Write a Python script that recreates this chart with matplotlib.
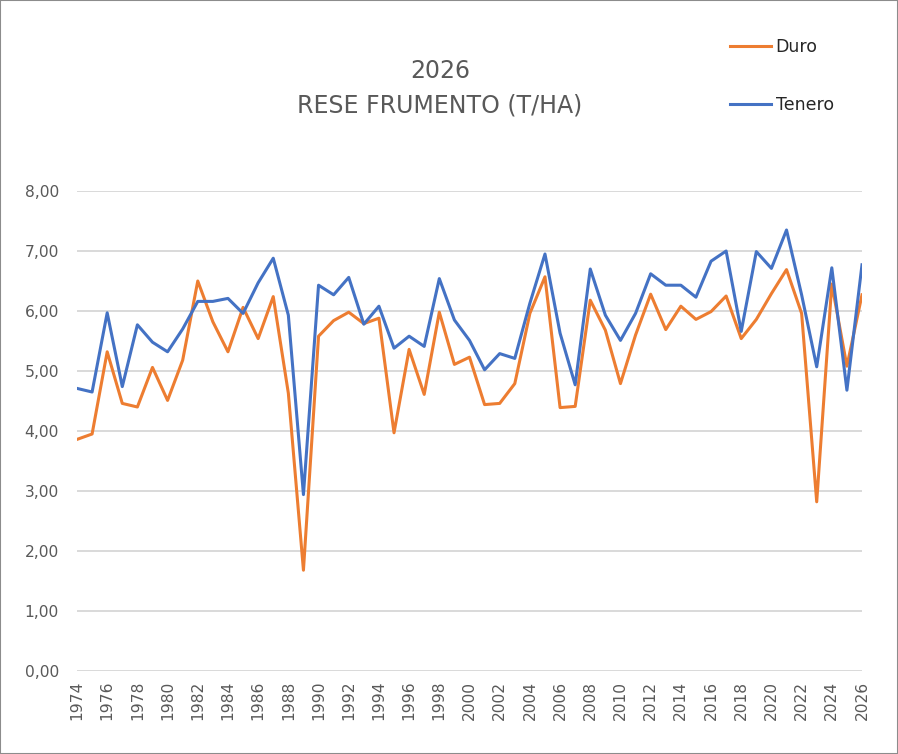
import matplotlib.pyplot as plt
from matplotlib.patches import Rectangle

years = list(range(1974, 2027))

duro = [3.86, 3.95, 5.32, 4.46, 4.40, 5.06, 4.51, 5.18, 6.50, 5.82,
        5.32, 6.06, 5.54, 6.24, 4.63, 1.68, 5.58, 5.84, 5.98, 5.79,
        5.88, 3.97, 5.36, 4.61, 5.98, 5.11, 5.23, 4.44, 4.46, 4.79,
        5.96, 6.57, 4.39, 4.41, 6.18, 5.68, 4.79, 5.60, 6.28, 5.69,
        6.08, 5.86, 5.99, 6.25, 5.54, 5.86, 6.29, 6.69, 5.96, 2.82,
        6.45, 5.08, 6.27]

tenero = [4.71, 4.65, 5.97, 4.74, 5.77, 5.48, 5.32, 5.70, 6.16, 6.16,
          6.21, 5.96, 6.47, 6.88, 5.93, 2.94, 6.43, 6.27, 6.56, 5.78,
          6.08, 5.38, 5.58, 5.41, 6.54, 5.85, 5.51, 5.02, 5.29, 5.21,
          6.13, 6.95, 5.63, 4.77, 6.70, 5.93, 5.51, 5.96, 6.62, 6.43,
          6.43, 6.23, 6.83, 7.00, 5.66, 6.99, 6.71, 7.35, 6.27, 5.07,
          6.72, 4.68, 6.77]

title = "2026\nRESE FRUMENTO (T/HA)"
grey = "#595959"

fig = plt.figure(figsize=(8.98, 7.54), dpi=100)
ax = fig.add_axes([77 / 898, 1 - 671 / 754, 785 / 898, 480 / 754])

ax.plot(years, duro, color="#ED7D31", lw=2.2, label="Duro", solid_joinstyle="round")
ax.plot(years, tenero, color="#4472C4", lw=2.2, label="Tenero", solid_joinstyle="round")

ax.set_xlim(1974, 2026)
ax.set_ylim(0, 8)
ax.set_yticks(range(0, 9))
ax.set_yticklabels([f"{v},00" for v in range(0, 9)])
ax.set_xticks(years[::2])
ax.set_xticklabels([str(y) for y in years[::2]], rotation=90)
ax.tick_params(length=0, colors=grey, labelsize=11.2)
ax.tick_params(axis="y", pad=13)
ax.tick_params(axis="x", pad=7)
ax.grid(axis="y", color="#D9D9D9", lw=1.4)
ax.set_axisbelow(True)
for s in ax.spines.values():
    s.set_visible(False)

fig.text(0.49, 1 - 88 / 754, title, ha="center", va="center", fontsize=17,
         color=grey, linespacing=1.55)

leg = fig.legend(loc="upper left", bbox_to_anchor=(714 / 898, 1 - 22 / 754),
                 frameon=False, fontsize=12.5, handlelength=2.4,
                 handletextpad=0.25, labelspacing=2.35)
for t in leg.get_texts():
    t.set_color("#262626")

fig.patches.append(Rectangle((0, 0), 1, 1, transform=fig.transFigure,
                             fill=False, edgecolor="#8c8c8c", lw=1.5))

fig.savefig("out.png", dpi=100)
